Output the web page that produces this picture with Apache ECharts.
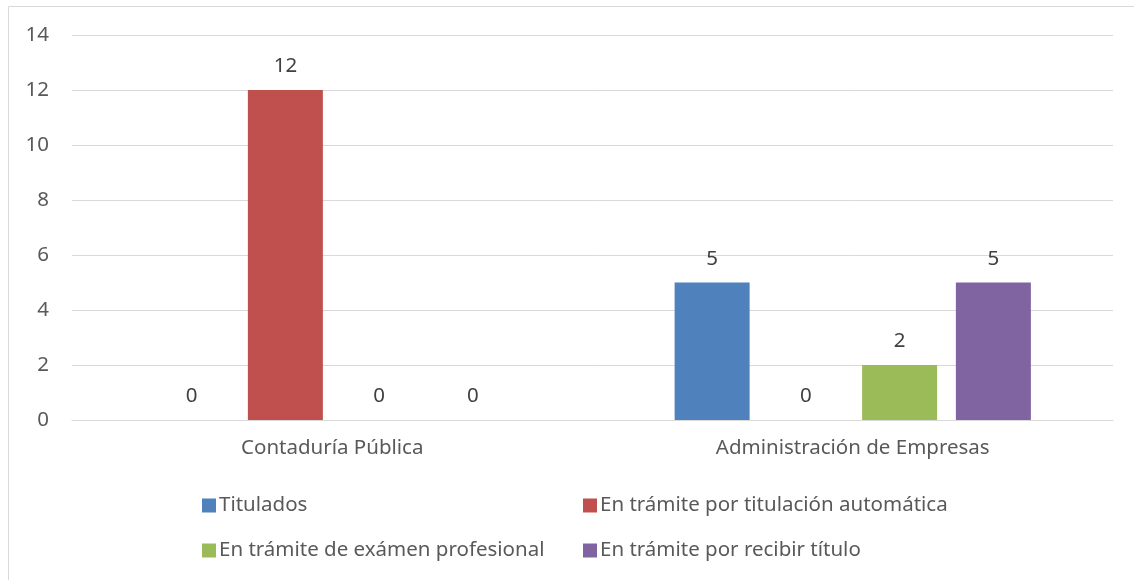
<!DOCTYPE html>
<html><head><meta charset="utf-8">
<script src="https://cdn.jsdelivr.net/npm/echarts@6/dist/echarts.min.js"></script>
<style>html,body{margin:0;padding:0;background:#fff}#c{width:1134px;height:580px}</style>
</head><body><div id="c"></div>
<script>
const categories = ['Contaduría Pública', 'Administración de Empresas'];
const seriesNames = ['Titulados', 'En trámite por titulación automática', 'En trámite de exámen profesional', 'En trámite por recibir título'];
const titulados = [0, 5];
const automatica = [12, 0];
const examen = [0, 2];
const recibir = [0, 5];
const colors = ['#4f81bd', '#c0504d', '#9bbb59', '#8064a2'];
const yTicks = [0, 2, 4, 6, 8, 10, 12, 14];

const values = [titulados, automatica, examen, recibir];
const font = 'Noto Sans, sans-serif';
const fs = 20.5;
const chart = echarts.init(document.getElementById('c'));
const legendPos = [[202, 495], [583, 495], [202, 540], [583, 540]];
chart.setOption({
  animation: false,
  graphic: [{type: 'rect', shape: {x: 8.5, y: 6.5, width: 1140, height: 600}, style: {fill: 'none', stroke: '#d9d9d9', lineWidth: 1}, silent: true}],
  grid: {left: 72, right: 21, top: 35, bottom: 160, containLabel: false},
  legend: seriesNames.map((n, i) => ({
    data: [n], left: legendPos[i][0], top: legendPos[i][1], itemWidth: 14, itemHeight: 14, itemGap: 0, padding: 0,
    icon: 'rect', textStyle: {fontFamily: font, fontSize: fs, color: '#595959', padding: [0, 0, 0, -2]}
  })),
  xAxis: {
    type: 'category', data: categories,
    axisLine: {lineStyle: {color: '#d9d9d9'}}, axisTick: {show: false},
    axisLabel: {fontFamily: font, fontSize: fs, color: '#595959', margin: 18}
  },
  yAxis: {
    type: 'value', min: yTicks[0], max: yTicks[yTicks.length - 1], interval: 2,
    axisLine: {show: false}, axisTick: {show: false},
    splitLine: {lineStyle: {color: '#d9d9d9'}},
    axisLabel: {fontFamily: font, fontSize: fs, color: '#595959', margin: 23}
  },
  series: seriesNames.map((n, i) => ({
    name: n, type: 'bar', data: values[i], barWidth: 75, barGap: '25%', barCategoryGap: '31%',
    itemStyle: {color: colors[i]},
    label: {show: true, position: 'top', distance: 13, fontFamily: font, fontSize: fs, color: '#404040'}
  }))
});
</script></body></html>
